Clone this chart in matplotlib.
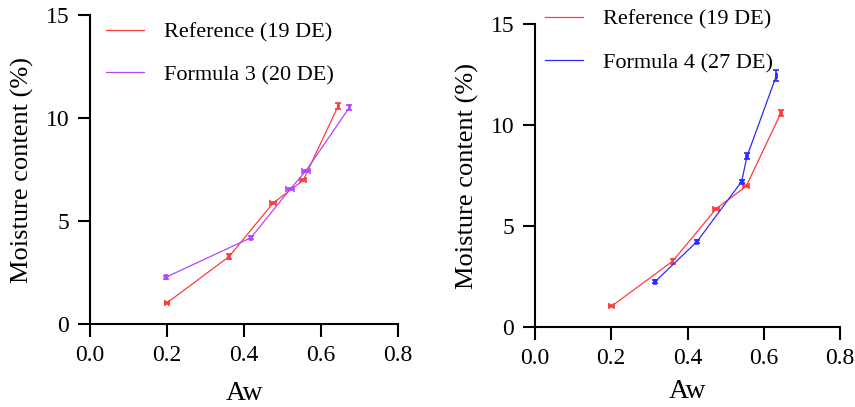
import numpy as np
import matplotlib.pyplot as plt

plt.rcParams['font.family'] = ['Liberation Serif', 'DejaVu Serif']

# Reference (19 DE)
ref_aw = [0.200, 0.361, 0.475, 0.554, 0.645]
ref_mc = [1.03, 3.27, 5.86, 6.98, 10.60]
ref_aw_err = [0.006, 0.002, 0.008, 0.008, 0.002]
ref_mc_err = [0.05, 0.12, 0.05, 0.05, 0.15]

# Formula 3 (20 DE)
f3_aw = [0.197, 0.418, 0.520, 0.561, 0.674]
f3_mc = [2.27, 4.19, 6.55, 7.44, 10.52]
f3_aw_err = [0.003, 0.003, 0.010, 0.010, 0.002]
f3_mc_err = [0.08, 0.08, 0.05, 0.05, 0.12]

# Formula 4 (27 DE)
f4_aw = [0.315, 0.425, 0.542, 0.556, 0.633]
f4_mc = [2.26, 4.24, 7.21, 8.45, 12.44]
f4_aw_err = [0.003, 0.003, 0.003, 0.003, 0.002]
f4_mc_err = [0.08, 0.08, 0.08, 0.15, 0.28]

red = '#ff3b3b'
purple = '#b444ff'
blue = '#2a2aff'


def plotSeries(ax, aw, mc, aw_err, mc_err, color, label):
    ax.plot(aw, mc, color=color, lw=0.9, label=label)
    ax.errorbar(aw, mc, xerr=aw_err, yerr=mc_err, fmt='none', ecolor=color,
                elinewidth=1.2, capsize=2, capthick=1.2)


def styleAxes(ax, xpad):
    ax.set_xlim(0, 0.8)
    ax.set_ylim(0, 15)
    ax.set_xticks([0.0, 0.2, 0.4, 0.6, 0.8])
    ax.set_xticklabels(['0.0', '0.2', '0.4', '0.6', '0.8'])
    ax.set_yticks([0, 5, 10, 15])
    for side in ['top', 'right']:
        ax.spines[side].set_visible(False)
    for side in ['left', 'bottom']:
        ax.spines[side].set_linewidth(1.5)
    ax.tick_params(direction='out', length=9, width=1.5, labelsize=17, pad=6)
    ax.set_xlabel('Aw', fontsize=20, labelpad=xpad)
    ax.set_ylabel('Moisture content (%)', fontsize=19, labelpad=8)


fig = plt.figure(figsize=(8.55, 4.07), dpi=100)
ax1 = fig.add_axes([0.1053, 0.2039, 0.3602, 0.7592])
ax2 = fig.add_axes([0.6257, 0.1958, 0.3568, 0.7452])

plotSeries(ax1, ref_aw, ref_mc, ref_aw_err, ref_mc_err, red, 'Reference (19 DE)')
plotSeries(ax1, f3_aw, f3_mc, f3_aw_err, f3_mc_err, purple, 'Formula 3 (20 DE)')
plotSeries(ax2, ref_aw, ref_mc, ref_aw_err, ref_mc_err, red, 'Reference (19 DE)')
plotSeries(ax2, f4_aw, f4_mc, f4_aw_err, f4_mc_err, blue, 'Formula 4 (27 DE)')

styleAxes(ax1, 11)
styleAxes(ax2, 7)

ax1.legend(loc='upper left', bbox_to_anchor=(-0.013, 1.043), frameon=False,
           fontsize=16, handlelength=1.7, handletextpad=0.9, labelspacing=1.0)
ax2.legend(loc='upper left', bbox_to_anchor=(-0.033, 1.116), frameon=False,
           fontsize=16, handlelength=1.7, handletextpad=0.9, labelspacing=1.05)

fig.savefig('out.png', dpi=100)
